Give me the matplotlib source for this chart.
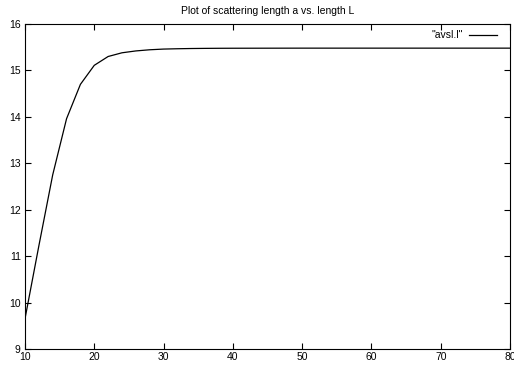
import matplotlib
matplotlib.use("Agg")
import matplotlib.pyplot as plt

# scattering length a vs. box length L
L = [10, 12, 14, 16, 18, 20, 22, 24, 26, 28, 30, 32, 34, 36, 38, 40,
     45, 50, 55, 60, 65, 70, 75, 80]
a = [9.65, 11.22, 12.75, 13.96, 14.70, 15.11, 15.30, 15.38, 15.42, 15.445,
     15.46, 15.467, 15.472, 15.475, 15.477, 15.478, 15.479, 15.48, 15.48,
     15.48, 15.48, 15.48, 15.48, 15.48]

plt.rcParams['font.family'] = ['Liberation Sans', 'DejaVu Sans']
plt.rcParams['font.size'] = 7.5

fig = plt.figure(figsize=(5.14, 3.67), dpi=100)
ax = fig.add_axes([0.0486, 0.049, 0.9436, 0.8856])

ax.plot(L, a, color='black', lw=0.9, label='"avsl.l"')

ax.set_xlim(10, 80)
ax.set_ylim(9, 16)
ax.set_xticks(range(10, 81, 10))
ax.set_yticks(range(9, 17))
ax.tick_params(direction='in', top=True, right=True, length=4, width=0.8,
               labelsize=7.5, pad=2)
ax.tick_params(axis='y', pad=3)
for sp in ax.spines.values():
    sp.set_linewidth(0.8)

ax.set_title('Plot of scattering length a vs. length L', fontsize=7.5, pad=7)
ax.legend(loc='upper right', frameon=False, markerfirst=False,
          handlelength=2.7, handletextpad=0.6, borderaxespad=0.4,
          borderpad=0.2, fontsize=7.5, bbox_to_anchor=(0.987, 1.0))

fig.savefig('out.png', dpi=100)
